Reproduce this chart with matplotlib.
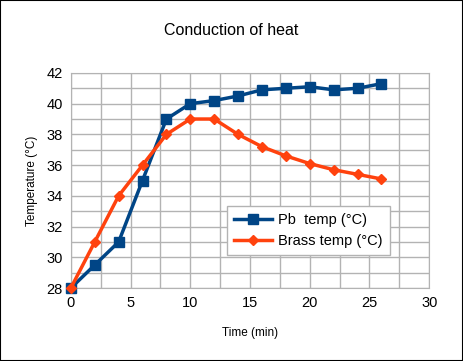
import matplotlib.pyplot as plt
from matplotlib.ticker import MultipleLocator

plt.rcParams['font.family'] = ['Liberation Sans', 'DejaVu Sans']

time_min = [0, 2, 4, 6, 8, 10, 12, 14, 16, 18, 20, 22, 24, 26]
pb_temp = [28, 29.5, 31, 35, 39, 40, 40.2, 40.5, 40.9, 41.0, 41.1, 40.9, 41.0, 41.3]
brass_temp = [28, 31, 34, 36, 38, 39, 39, 38, 37.2, 36.6, 36.1, 35.7, 35.4, 35.1]

fig = plt.figure(figsize=(4.63, 3.61), dpi=100)
fig.patches.append(plt.Rectangle((0, 0), 1, 1, transform=fig.transFigure,
                                 fill=False, edgecolor='black', linewidth=1.5))
ax = fig.add_axes([0.153, 0.202, 0.774, 0.596])

ax.plot(time_min, pb_temp, color='#004586', marker='s', markersize=7,
        linewidth=2.5, label='Pb  temp (°C)', zorder=3, clip_on=False)
ax.plot(time_min, brass_temp, color='#ff420e', marker='D', markersize=5,
        linewidth=2.5, label='Brass temp (°C)', zorder=3, clip_on=False)

ax.set_xlim(0, 30)
ax.set_ylim(28, 42)
ax.xaxis.set_major_locator(MultipleLocator(5))
ax.xaxis.set_minor_locator(MultipleLocator(2.5))
ax.yaxis.set_major_locator(MultipleLocator(2))
ax.yaxis.set_minor_locator(MultipleLocator(1))
ax.grid(which='both', color='#b3b3b3', linewidth=1)
ax.tick_params(which='both', length=0, labelsize=10.5, pad=6)
for s in ax.spines.values():
    s.set_color('#b3b3b3')

ax.set_xlabel('Time (min)', fontsize=8.5, labelpad=12)
ax.set_ylabel('Temperature (°C)', fontsize=8.5, labelpad=6)
fig.suptitle('Conduction of heat', fontsize=11.5, y=0.935)

leg = ax.legend(loc='lower left', bbox_to_anchor=(0.436, 0.153), fontsize=10.5,
                fancybox=False, framealpha=1, edgecolor='#b3b3b3',
                handlelength=2.6, handletextpad=0.4, borderpad=0.5,
                labelspacing=0.45, borderaxespad=0)

fig.savefig('out.png', dpi=100)
